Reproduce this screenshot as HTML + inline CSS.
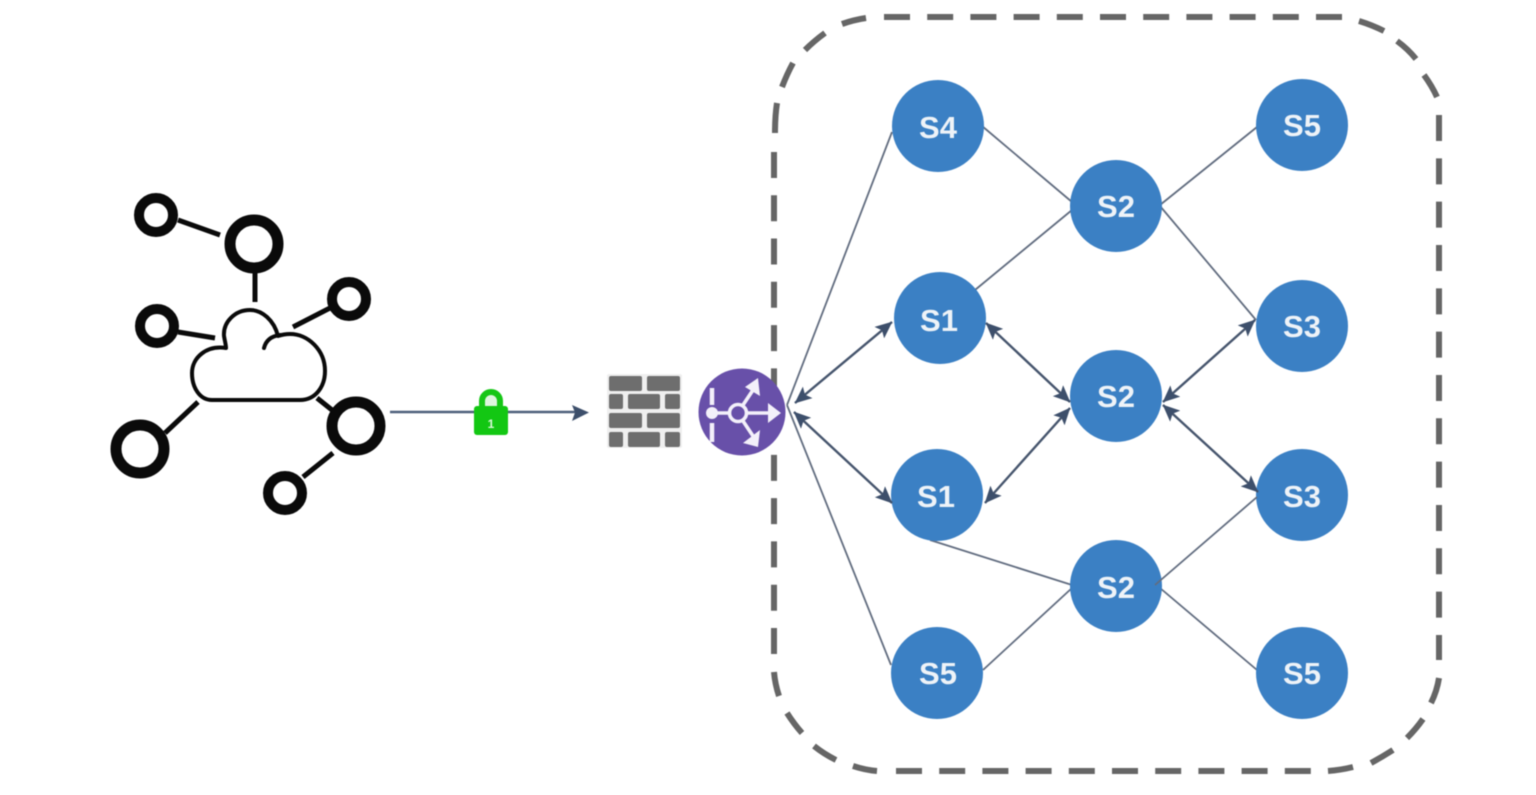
<!DOCTYPE html>
<html lang="en">
<head>
<meta charset="utf-8">
<title>Network diagram</title>
<style>
html,body{margin:0;padding:0;background:#fff;width:1536px;height:795px;overflow:hidden}
svg{display:block;filter:blur(.65px)}
.lbl{font-family:"Liberation Sans",sans-serif;font-weight:700;font-size:31px;fill:#eef3f8;text-anchor:middle}
</style>
</head>
<body>
<svg xmlns="http://www.w3.org/2000/svg" width="1536" height="795" viewBox="0 0 1536 795">
<defs>
<marker id="ah" viewBox="0 0 17 15" refX="16.5" refY="7.5" markerWidth="17" markerHeight="15" markerUnits="userSpaceOnUse" orient="auto-start-reverse">
<path d="M0 0L17 7.5L0 15L3.5 7.5Z" fill="#3d4f6b"/>
</marker>
</defs>
<rect width="1536" height="795" fill="#fff"/>

<!-- dashed boundary -->
<g fill="none" stroke="#666" stroke-width="6">
<path d="M884 17H1342" stroke-dasharray="26 17.2"/>
<path d="M896 771H1311" stroke-dasharray="26 17.2"/>
<path d="M774 152V654" stroke-dasharray="26 17.27"/>
<path d="M1439 115V660" stroke-dasharray="26 17.33"/>
<path d="M775 133Q775 116 777 103"/>
<path d="M782 87Q787 74 793 63"/>
<path d="M805 50Q814 41 825 33"/>
<path d="M842 24Q853 20 866 18"/>
<path d="M1359 21Q1372 25 1384 31"/>
<path d="M1397 41Q1408 49 1416 59"/>
<path d="M1424 75Q1432 86 1437 97"/>
<path d="M1439 678Q1437 691 1431 703"/>
<path d="M1423 719Q1416 729 1407 738"/>
<path d="M1393 750Q1382 757 1371 763"/>
<path d="M1353 767Q1341 770 1328 771"/>
<path d="M774 672Q775 684 779 696"/>
<path d="M787 713Q794 724 802 733"/>
<path d="M814 746Q824 754 836 760"/>
<path d="M853 766Q865 770 877 771"/>
</g>

<!-- thin connectors -->
<g stroke="#626d80" stroke-width="1.8" fill="none">
<path d="M892 132L787 405"/>
<path d="M891 665L787 405"/>
<path d="M982 126L1072 202"/>
<path d="M1160 205L1257 127"/>
<path d="M975 290L1072 210"/>
<path d="M1160 206L1256 320"/>
<path d="M930 540L1072 585"/>
<path d="M983 670L1072 588"/>
<path d="M1160 588L1257 670"/>
</g>

<!-- nodes -->
<g fill="#3b80c4">
<circle cx="938" cy="126" r="46"/>
<circle cx="1116" cy="206" r="46"/>
<circle cx="1302" cy="125" r="46"/>
<circle cx="940" cy="318" r="46"/>
<circle cx="1302" cy="326" r="46"/>
<circle cx="1116" cy="396" r="46"/>
<circle cx="937" cy="495" r="46"/>
<circle cx="1302" cy="495" r="46"/>
<circle cx="1116" cy="586" r="46"/>
<circle cx="937" cy="673" r="46"/>
<circle cx="1302" cy="673" r="46"/>
</g>
<path d="M1155 585L1257 497" stroke="#626d80" stroke-width="1.8" fill="none"/>

<!-- double arrows -->
<g stroke="#46556d" stroke-width="2.4" fill="none">
<path d="M795 403L892 322" marker-start="url(#ah)" marker-end="url(#ah)"/>
<path d="M794 412L892 503" marker-start="url(#ah)" marker-end="url(#ah)"/>
<path d="M986 323L1070 402" marker-start="url(#ah)" marker-end="url(#ah)"/>
<path d="M985 503L1070 408" marker-start="url(#ah)" marker-end="url(#ah)"/>
<path d="M1163 402L1255 320" marker-start="url(#ah)" marker-end="url(#ah)"/>
<path d="M1163 405L1258 492" marker-start="url(#ah)" marker-end="url(#ah)"/>
</g>

<g>
<text class="lbl" x="938" y="138">S4</text>
<text class="lbl" x="1116" y="217">S2</text>
<text class="lbl" x="1302" y="136">S5</text>
<text class="lbl" x="939" y="331">S1</text>
<text class="lbl" x="1302" y="337">S3</text>
<text class="lbl" x="1116" y="407">S2</text>
<text class="lbl" x="936" y="507">S1</text>
<text class="lbl" x="1302" y="507">S3</text>
<text class="lbl" x="1116" y="598">S2</text>
<text class="lbl" x="938" y="684">S5</text>
<text class="lbl" x="1302" y="684">S5</text>
</g>

<!-- cloud network icon -->
<g fill="none" stroke="#0a0a0a">
<circle cx="156" cy="215" r="17" stroke-width="10"/>
<circle cx="254" cy="244" r="24" stroke-width="11"/>
<circle cx="349" cy="299" r="17" stroke-width="10"/>
<circle cx="157" cy="326" r="17" stroke-width="10"/>
<circle cx="356" cy="426" r="24" stroke-width="11"/>
<circle cx="140" cy="449" r="24" stroke-width="11"/>
<circle cx="285" cy="493" r="17" stroke-width="10"/>
<g stroke-width="5">
<path d="M178 220L220 235"/>
<path d="M255 273V302"/>
<path d="M178 332L215 338"/>
<path d="M330 308L293 327"/>
<path d="M317 398L332 410"/>
<path d="M198 402L165 433"/>
<path d="M333 453L303 477"/>
</g>
<path d="M212 400H300C316 400 325 386 325 371C325 350 308 334 290 334C285 334 281 335 278 336C274 320 262 310 250 310C235 310 223 322 224 336C225 342 226 345 226 348C206 345 192 358 192 373C192 388 200 400 212 400Z" stroke-width="4" stroke-linejoin="round"/>
<path d="M264 348C266 340 272 336 280 335" stroke-width="4" stroke-linecap="round"/>
</g>

<!-- connection arrow -->
<path d="M390 412H578" stroke="#4e607c" stroke-width="2.4"/>
<path d="M572 405L589 412.5L572 421L575 412.5Z" fill="#3d4f6b"/>

<!-- padlock -->
<path d="M482 410V401A9 9 0 0 1 500 401V410" fill="#dff5df" stroke="#16c616" stroke-width="6"/>
<rect x="474" y="406" width="34" height="29" rx="3" fill="#13c713"/>
<text x="491" y="428" text-anchor="middle" font-family="Liberation Sans, sans-serif" font-weight="700" font-size="12" fill="#d8f8d8">1</text>

<!-- firewall -->
<rect x="607" y="374" width="75" height="74" rx="2" fill="#efefef"/>
<g fill="#6e6e6e">
<rect x="609" y="376" width="33" height="15" rx="2"/>
<rect x="647" y="376" width="33" height="15" rx="2"/>
<rect x="609" y="394" width="14" height="15" rx="2"/>
<rect x="628" y="394" width="32" height="15" rx="2"/>
<rect x="665" y="394" width="15" height="15" rx="2"/>
<rect x="609" y="413" width="33" height="15" rx="2"/>
<rect x="647" y="413" width="33" height="15" rx="2"/>
<rect x="609" y="432" width="14" height="15" rx="2"/>
<rect x="628" y="432" width="32" height="15" rx="2"/>
<rect x="665" y="432" width="15" height="15" rx="2"/>
</g>

<!-- router -->
<circle cx="742" cy="412" r="43.5" fill="#6850a9"/>
<g stroke="#f3f0fa" fill="none" stroke-width="3.6">
<circle cx="738" cy="413" r="8.5"/>
<path d="M712 413H729"/>
<path d="M747 413H771"/>
<path d="M743 405L753 390"/>
<path d="M743 421L753 436"/>
<path d="M712 388V405M712 423V442" stroke-width="4.5"/>
</g>
<g fill="#f3f0fa">
<circle cx="712" cy="413" r="6"/>
<path d="M768 403L781 413L768 423Z"/>
<path d="M745 387L758 378L760 396Z"/>
<path d="M743 443L758 447L760 430Z"/>
</g>
</svg>
</body>
</html>
